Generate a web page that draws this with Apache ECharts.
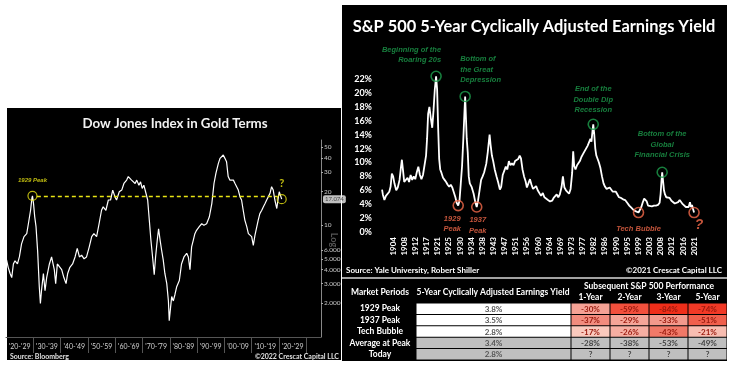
<!DOCTYPE html>
<html><head><meta charset="utf-8">
<script src="https://cdn.jsdelivr.net/npm/echarts@6/dist/echarts.min.js"></script>
<style>html,body{margin:0;padding:0;background:#fff}#c{width:732px;height:374px}</style>
</head><body><div id="c"></div>
<script>
// ---------- Left chart: Dow Jones Index in Gold Terms ----------
const DJ_POINTS = [[1920.2,4.9],[1920.8,4.2],[1921.5,3.7],[1922.1,3.4],[1922.7,4.5],[1923.3,4.8],[1924.2,4.5],[1924.9,5.2],[1925.7,6.8],[1926.6,7.9],[1927.6,8.4],[1928.2,10.3],[1929.0,13.6],[1929.5,17.5],[1929.7,18.3],[1930.1,15.5],[1930.5,12.0],[1931.0,9.7],[1931.6,5.8],[1932.2,2.8],[1932.6,2.0],[1933.0,2.6],[1933.4,2.5],[1933.7,3.7],[1934.3,2.6],[1934.9,3.4],[1935.9,4.5],[1936.7,5.2],[1937.3,5.4],[1937.7,4.0],[1938.2,3.0],[1938.8,4.5],[1939.5,4.4],[1940.4,4.0],[1941.2,3.4],[1942.0,3.0],[1942.6,3.7],[1943.4,4.2],[1944.4,4.5],[1945.3,5.2],[1946.1,6.2],[1946.9,5.2],[1947.7,5.4],[1948.6,5.0],[1949.5,5.2],[1950.5,6.4],[1951.4,7.9],[1952.2,8.4],[1953.2,7.9],[1954.1,10.3],[1955.0,13.6],[1955.6,14.6],[1956.6,13.6],[1957.5,16.8],[1958.3,16.8],[1959.1,20.6],[1959.9,18.0],[1960.5,16.8],[1961.5,19.9],[1962.4,20.6],[1963.2,23.6],[1964.2,25.3],[1964.8,27.2],[1965.4,28.1],[1966.0,25.3],[1966.6,26.2],[1967.3,23.6],[1967.9,25.3],[1968.7,22.8],[1969.3,24.4],[1969.9,21.3],[1970.5,22.8],[1971.3,19.2],[1971.9,16.8],[1972.5,11.1],[1973.1,7.3],[1973.7,5.2],[1974.3,3.6],[1974.8,5.2],[1975.4,7.3],[1975.9,9.3],[1976.4,7.5],[1977.0,6.0],[1977.6,4.9],[1978.2,3.7],[1978.9,3.0],[1979.5,2.1],[1979.8,1.4],[1980.3,1.85],[1980.7,2.3],[1981.3,2.1],[1981.9,2.4],[1982.5,2.8],[1983.5,3.2],[1984.3,4.5],[1985.2,5.2],[1986.2,5.6],[1986.8,5.2],[1987.4,4.0],[1988.0,6.4],[1988.6,7.3],[1989.2,8.4],[1989.8,9.0],[1990.8,9.7],[1991.7,10.3],[1992.5,10.0],[1993.5,10.3],[1994.5,11.9],[1995.4,15.6],[1996.2,23.6],[1996.9,29.1],[1997.8,35.7],[1998.4,39.6],[1999.0,41.0],[1999.6,42.4],[2000.2,39.6],[2000.8,36.9],[2001.4,27.2],[2002.0,25.3],[2002.7,24.4],[2003.3,25.3],[2003.9,23.6],[2004.5,23.6],[2005.1,20.6],[2005.7,18.0],[2006.3,16.8],[2006.9,13.6],[2007.5,11.1],[2008.2,9.7],[2008.8,8.4],[2009.4,8.7],[2010.0,7.9],[2010.6,6.6],[2011.2,8.1],[2011.8,7.9],[2012.4,11.1],[2013.0,12.7],[2013.7,13.6],[2014.3,14.6],[2014.9,15.6],[2015.5,16.8],[2016.1,18.0],[2016.7,19.2],[2017.3,22.1],[2017.9,20.6],[2018.5,16.8],[2019.2,14.1],[2019.8,18.0],[2020.1,19.9],[2020.6,19.2],[2021.0,17.1]];
const DJ_DECADE_LABELS = ["'20-'29","'30-'39","'40-'49","'50-'59","'60-'69","'70-'79","'80-'89","'90-'99","'00-'09","'10-'19","'20-'29"];
const DJ_DECADE_STARTS = [1920,1930,1940,1950,1960,1970,1980,1990,2000,2010,2020];
const DJ_Y_TICKS = [2,3,4,5,6,10,20,30,40,50];
const DJ_Y_LABELS = ['2.000','3.000','4.000','5.000','6.000','10','20','30','40','50'];
const DJ_MARK_POINTS = [[1929.7,18.3],[2021.0,17.1]];
const DJ_MARK_LABELS = ['1929 Peak','?'];
const DJ_LAST_VALUE = 17.074;

// ---------- Right chart: S&P 500 5-Year CAEY ----------
const SP_POINTS = [[1899.7,6.1],[1900.0,5.4],[1900.6,4.6],[1901.2,5.2],[1901.8,5.0],[1902.5,5.8],[1903.0,6.5],[1903.5,8.4],[1904.0,8.0],[1904.5,7.0],[1905.2,6.0],[1905.8,6.4],[1906.5,7.5],[1907.0,9.2],[1907.4,10.4],[1907.8,9.0],[1908.3,7.2],[1909.0,7.0],[1909.6,7.8],[1910.2,7.2],[1910.8,8.2],[1911.4,7.5],[1912.0,8.0],[1912.6,7.6],[1913.2,8.6],[1913.8,9.4],[1914.4,8.2],[1915.0,7.6],[1915.6,8.2],[1916.2,8.0],[1916.8,11.0],[1917.2,13.5],[1917.6,17.0],[1918.1,18.0],[1918.6,16.5],[1919.2,15.0],[1919.7,17.5],[1920.2,20.5],[1920.7,22.4],[1921.1,20.5],[1921.5,15.0],[1921.9,10.5],[1922.3,9.0],[1922.8,8.5],[1923.4,7.8],[1924.0,7.5],[1924.6,7.2],[1925.2,6.8],[1925.8,6.5],[1926.4,6.8],[1927.0,6.4],[1927.6,6.2],[1928.2,5.0],[1928.7,4.2],[1929.3,3.8],[1929.8,4.5],[1930.3,7.0],[1930.8,9.5],[1931.3,13.5],[1931.7,17.0],[1932.0,19.5],[1932.3,16.5],[1932.6,13.5],[1933.0,11.5],[1933.4,8.0],[1933.8,7.0],[1934.5,6.5],[1935.3,5.5],[1936.0,4.2],[1936.5,3.6],[1937.0,4.5],[1937.6,6.0],[1938.2,7.5],[1938.8,8.0],[1939.4,8.6],[1940.2,9.8],[1940.8,11.5],[1941.5,14.0],[1941.9,12.5],[1942.4,11.0],[1942.9,10.2],[1943.5,9.0],[1944.2,8.0],[1944.8,7.2],[1945.5,6.1],[1946.0,6.5],[1946.6,8.2],[1947.2,8.8],[1947.8,9.4],[1948.4,9.0],[1949.0,10.2],[1949.6,9.6],[1950.2,9.9],[1950.8,9.6],[1951.4,10.2],[1952.0,10.0],[1952.6,10.5],[1953.2,11.0],[1953.7,10.6],[1954.3,9.0],[1954.9,8.0],[1955.5,7.3],[1956.0,6.4],[1956.5,6.2],[1957.2,7.6],[1957.8,6.8],[1958.4,6.2],[1959.0,6.4],[1959.6,6.6],[1960.2,6.0],[1960.9,5.8],[1961.5,5.2],[1962.2,5.6],[1962.8,5.0],[1963.5,4.8],[1964.2,4.6],[1965.0,4.4],[1965.8,4.5],[1966.4,4.9],[1967.0,5.0],[1967.6,5.4],[1968.2,5.0],[1968.8,5.4],[1969.5,6.5],[1970.0,8.0],[1970.6,6.4],[1971.2,6.0],[1971.8,5.8],[1972.4,5.5],[1973.0,6.2],[1973.6,8.5],[1974.0,11.6],[1974.4,9.5],[1974.9,9.0],[1975.5,9.6],[1976.0,9.6],[1976.6,10.2],[1977.2,10.8],[1977.8,11.2],[1978.4,11.6],[1979.0,12.0],[1979.6,12.4],[1980.2,12.6],[1980.7,13.4],[1981.1,13.0],[1981.5,14.5],[1981.8,15.5],[1982.2,14.0],[1982.6,12.0],[1983.0,11.0],[1983.5,10.5],[1984.0,10.0],[1984.6,9.2],[1985.2,8.0],[1985.8,7.0],[1986.4,6.5],[1987.0,6.2],[1987.6,6.0],[1988.2,6.4],[1988.8,6.2],[1989.4,5.8],[1990.0,5.6],[1990.6,5.8],[1991.2,5.4],[1991.8,5.0],[1992.6,4.9],[1993.4,4.7],[1994.2,4.6],[1995.0,4.2],[1995.8,3.8],[1996.6,3.5],[1997.4,3.2],[1998.2,3.0],[1998.9,2.9],[1999.4,2.8],[1999.9,3.0],[2000.5,3.6],[2001.0,4.2],[2001.6,4.8],[2002.1,4.9],[2002.6,4.4],[2003.1,3.8],[2003.8,3.7],[2004.6,3.7],[2005.4,3.8],[2006.2,3.8],[2007.0,3.9],[2007.6,4.2],[2008.0,5.5],[2008.3,7.2],[2008.6,8.6],[2008.9,7.5],[2009.3,6.0],[2009.7,5.4],[2010.2,5.0],[2010.8,4.8],[2011.5,4.9],[2012.2,4.5],[2012.9,4.4],[2013.5,4.1],[2014.1,3.9],[2014.8,4.3],[2015.4,4.6],[2016.0,4.4],[2016.6,4.0],[2017.2,3.8],[2017.8,3.6],[2018.4,3.8],[2018.9,3.6],[2019.4,4.3],[2019.8,3.6],[2020.2,3.9],[2020.6,3.3],[2021.0,2.8]];
const SP_X_LABELS = ['1904','1908','1912','1917','1921','1925','1930','1934','1938','1943','1947','1951','1956','1960','1964','1969','1973','1977','1982','1986','1990','1995','1999','2003','2008','2012','2016','2021'];
const SP_HIGH_POINTS = [[1920.7,22.4],[1932.0,19.5],[1981.8,15.5],[2008.6,8.6]];
const SP_HIGH_LABELS = ['Beginning of the\nRoaring 20s','Bottom of\nthe Great\nDepression','End of the\nDouble Dip\nRecession','Bottom of the\nGlobal\nFinancial Crisis'];
const SP_LOW_POINTS = [[1929.3,3.8],[1936.5,3.6],[1999.4,2.8],[2021.0,2.8]];
const SP_LOW_LABELS = ['1929\nPeak','1937\nPeak','Tech Bubble','?'];

// ---------- Table ----------
const PERIODS = ['1929 Peak','1937 Peak','Tech Bubble','Average at Peak','Today'];
const YIELDS = [3.8,3.5,2.8,3.4,2.8];
const PERF_COLS = ['1-Year','2-Year','3-Year','5-Year'];
const PERF_1929 = [-30,-59,-84,-74];
const PERF_1937 = [-37,-29,-33,-51];
const PERF_TECH = [-17,-26,-43,-21];
const PERF_AVG = [-28,-38,-53,-49];
const PERF_TODAY = ['?','?','?','?'];

const FONT = 'Lato, "Open Sans", sans-serif';
const ANN_FONT = '"Liberation Sans", Arial, sans-serif';
const GREEN = '#1d9e4c', RED = '#f2694a', YELLOW = '#e8e414';
const NONE = 'rgba(0,0,0,0)';

const chart = echarts.init(document.getElementById('c'), null, {renderer:'canvas'});

function txt(text, x, y, size, color, align, extra) {
  return Object.assign({type:'text', x:x, y:y, z:5, style:{text:text, fill:color, font:'bold ' + size + 'px ' + FONT, align:align || 'center', verticalAlign:'middle'}}, extra || {});
}

function cellRenderer(fillFn, textFn, textColorFn) {
  return function (params, api) {
    const c = api.coord([api.value(0), api.value(1)]);
    const s = api.size([1, 1]);
    return {type:'group', children:[
      {type:'rect', shape:{x:c[0]-s[0]/2+0.5, y:c[1]-s[1]/2+0.5, width:s[0]-1, height:s[1]-1}, style:{fill:fillFn(params, api)}},
      {type:'text', style:{text:textFn(params, api), x:c[0], y:c[1]+0.5, align:'center', verticalAlign:'middle', fill:textColorFn(params), font:'bold 8px ' + FONT}}
    ]};
  };
}

const perfPeakData = [];
[PERF_1929, PERF_1937, PERF_TECH].forEach((row, r) => row.forEach((v, c) => perfPeakData.push([c, r, v])));
const perfGreyData = [];
PERF_AVG.forEach((v, c) => perfGreyData.push([c, 3, v]));
PERF_TODAY.forEach((v, c) => perfGreyData.push([c, 4, v]));

const highLabelCfg = [
  {position:'top', align:'right', offset:[5,0], distance:5},
  {position:'top', align:'left', offset:[-5,0], distance:5},
  {position:'top', distance:3},
  {position:'top', distance:6}
];
const lowLabelCfg = [
  {position:'bottom', distance:2, offset:[-6,0]},
  {position:'bottom', distance:2, offset:[1,0]},
  {position:'bottom', distance:5},
  {position:'bottom', distance:0, offset:[5,0], fontSize:14, lineHeight:14}
];

const option = {
  animation:false,
  backgroundColor:'#ffffff',
  graphic:[
    {type:'rect', z:0, shape:{x:7, y:108, width:334, height:252}, style:{fill:'#000'}},
    {type:'rect', z:0, shape:{x:342, y:5, width:385, height:356}, style:{fill:'#000'}},
    {type:'line', z:1, shape:{x1:342, y1:278, x2:727, y2:278}, style:{stroke:'#d8d8d8', lineWidth:1.5}},
    txt('Dow Jones Index in Gold Terms', 175, 124, 13.3, '#f2f2f2'),
    txt('Source: Bloomberg', 10, 357, 7, '#e0e0e0', 'left'),
    txt('\u00a92022 Crescat Capital LLC', 339, 357, 7, '#e0e0e0', 'right'),
    txt('Log', 334, 240, 9, '#555', 'center', {rotation:-Math.PI/2}),
    txt('S&P 500 5-Year Cyclically Adjusted Earnings Yield', 534, 27, 16.4, '#ffffff'),
    txt('Source: Yale University, Robert Shiller', 346, 270, 8, '#ffffff', 'left'),
    txt('\u00a92021 Crescat Capital LLC', 722, 270, 8, '#ffffff', 'right'),
    txt('Market Periods', 380, 292.5, 8.5, '#ffffff'),
    txt('5-Year Cyclically Adjusted Earnings Yield', 493, 292.5, 8.5, '#ffffff'),
    txt('Subsequent S&P 500 Performance', 649, 286, 8.5, '#ffffff')
  ],
  grid:[
    {left:6, top:140, width:315, height:197},
    {left:382, top:65.2, width:318.5, height:166.8},
    {left:416, top:303, width:155, height:57},
    {left:571, top:303, width:156, height:57}
  ],
  xAxis:[
    {gridIndex:0, type:'value', min:1920, max:2035.4,
      axisLine:{show:true, lineStyle:{color:'#555', width:1}},
      axisTick:{show:true, customValues:DJ_DECADE_STARTS.slice(1).concat([2030]), length:16, lineStyle:{color:'#555'}},
      axisLabel:{show:true, customValues:DJ_DECADE_STARTS.map(v => v + 5), margin:6, color:'#d0d0d0', fontSize:7, fontFamily:FONT,
        formatter:v => DJ_DECADE_LABELS[DJ_DECADE_STARTS.indexOf(Math.round(v) - 5)] || ''},
      splitLine:{show:false}},
    {gridIndex:1, type:'value', min:1899.67, max:2023.5,
      axisLine:{show:false}, axisTick:{show:false}, splitLine:{show:false},
      axisLabel:{show:true, customValues:SP_X_LABELS.map((s, i) => 1904 + i * 13 / 3), rotate:90, margin:5,
        color:'#ffffff', fontSize:8, fontWeight:'bold', fontFamily:FONT,
        formatter:v => SP_X_LABELS[Math.round((v - 1904) * 3 / 13)] || ''}},
    {gridIndex:2, type:'category', data:['Yield'], show:false},
    {gridIndex:3, type:'category', data:PERF_COLS, position:'top',
      axisLine:{show:false}, axisTick:{show:false},
      axisLabel:{interval:0, color:'#ffffff', fontSize:8.5, fontWeight:'bold', fontFamily:FONT, margin:1}}
  ],
  yAxis:[
    {gridIndex:0, type:'log', logBase:10, min:1, max:57.8, position:'right',
      axisLine:{show:true, lineStyle:{color:'#888', width:1}},
      axisTick:{show:true, customValues:DJ_Y_TICKS, length:2, lineStyle:{color:'#aaa'}},
      minorTick:{show:false}, splitLine:{show:false},
      axisLabel:{show:true, customValues:DJ_Y_TICKS, margin:3, color:'#c8c8c8', fontSize:6.5, fontFamily:FONT,
        formatter:v => { const i = DJ_Y_TICKS.findIndex(t => Math.abs(t - v) < 1e-6); return i >= 0 ? DJ_Y_LABELS[i] : ''; }}},
    {gridIndex:1, type:'value', min:0, max:24, interval:2,
      axisLine:{show:false}, axisTick:{show:false}, splitLine:{show:false},
      axisLabel:{margin:10, color:'#ffffff', fontSize:9, fontWeight:'bold', fontFamily:FONT,
        formatter:v => v >= 24 ? '' : v + '%'}},
    {gridIndex:2, type:'category', data:PERIODS, inverse:true,
      axisLine:{show:false}, axisTick:{show:false},
      axisLabel:{interval:0, color:'#ffffff', fontSize:8.5, fontWeight:'bold', fontFamily:FONT, align:'center', margin:36}},
    {gridIndex:3, type:'category', data:PERIODS, inverse:true, show:false}
  ],
  visualMap:[{type:'continuous', show:false, seriesIndex:7, dimension:2, min:-84, max:-17,
    inRange:{color:['#ef2e1a','#f3412e','#f0604d','#f3978a','#fac9bd']}}],
  series:[
    {type:'line', xAxisIndex:0, yAxisIndex:0, data:DJ_POINTS, symbol:'none', z:3,
      lineStyle:{color:'#ffffff', width:1.2},
      markLine:{silent:true, symbol:'none', label:{show:false},
        lineStyle:{color:YELLOW, type:[4,3], width:1.3},
        data:[[{coord:[DJ_MARK_POINTS[0][0] + 1.6, DJ_MARK_POINTS[0][1]]}, {coord:[DJ_MARK_POINTS[1][0] - 1.5, DJ_MARK_POINTS[0][1]]}]]}},
    {type:'scatter', xAxisIndex:0, yAxisIndex:0, symbol:'circle', symbolSize:9, z:4,
      itemStyle:{color:NONE, borderColor:YELLOW, borderWidth:1.2},
      data:DJ_MARK_POINTS.map((p, i) => ({value:p, label:{show:true, formatter:DJ_MARK_LABELS[i], position:'top',
        distance: i === 0 ? 7 : 5, color:YELLOW, fontWeight:'bold', fontFamily: i === 0 ? ANN_FONT : FONT,
        fontStyle: i === 0 ? 'italic' : 'normal', fontSize: i === 0 ? 6 : 11}}))},
    {type:'scatter', xAxisIndex:0, yAxisIndex:0, symbolSize:0, z:4, silent:true,
      data:[[2035.4, DJ_LAST_VALUE]],
      label:{show:true, position:'right', distance:2, formatter:() => DJ_LAST_VALUE.toFixed(3),
        color:'#222', fontSize:6, fontFamily:FONT, backgroundColor:'#f0f0f0', padding:[1,2], borderRadius:2}},
    {type:'line', xAxisIndex:1, yAxisIndex:1, data:SP_POINTS, symbol:'none', z:3,
      lineStyle:{color:'#ffffff', width:1.8}},
    {type:'scatter', xAxisIndex:1, yAxisIndex:1, symbol:'circle', symbolSize:10, z:4,
      itemStyle:{color:NONE, borderColor:GREEN, borderWidth:1.6},
      data:SP_HIGH_POINTS.map((p, i) => ({value:p, label:Object.assign({show:true, formatter:SP_HIGH_LABELS[i],
        color:GREEN, fontSize:7.5, lineHeight:10.5, fontWeight:'bold', fontStyle:'italic', fontFamily:ANN_FONT}, highLabelCfg[i])}))},
    {type:'scatter', xAxisIndex:1, yAxisIndex:1, symbol:'circle', symbolSize:10, z:4,
      itemStyle:{color:NONE, borderColor:RED, borderWidth:1.6},
      data:SP_LOW_POINTS.map((p, i) => ({value:p, label:Object.assign({show:true, formatter:SP_LOW_LABELS[i],
        color:RED, fontSize:7.5, lineHeight:10.5, fontWeight:'bold', fontStyle:'italic', fontFamily:ANN_FONT}, lowLabelCfg[i])}))},
    {type:'custom', xAxisIndex:2, yAxisIndex:2, z:3,
      data:YIELDS.map((v, i) => [0, i, v]),
      renderItem:cellRenderer((p) => p.dataIndex < 3 ? '#ffffff' : '#bfbfbf', (p) => YIELDS[p.dataIndex].toFixed(1) + '%', () => '#555')},
    {type:'custom', xAxisIndex:3, yAxisIndex:3, z:3,
      data:perfPeakData,
      renderItem:cellRenderer((p, api) => api.visual('color'), (p) => perfPeakData[p.dataIndex][2] + '%', () => '#9a1a0e')},
    {type:'custom', xAxisIndex:3, yAxisIndex:3, z:3,
      data:perfGreyData.map(d => [d[0], d[1]]),
      renderItem:cellRenderer(() => '#bfbfbf', (p) => { const v = perfGreyData[p.dataIndex][2]; return typeof v === 'number' ? v + '%' : v; }, () => '#444')}
  ]
};
chart.setOption(option);
</script>
</body></html>
